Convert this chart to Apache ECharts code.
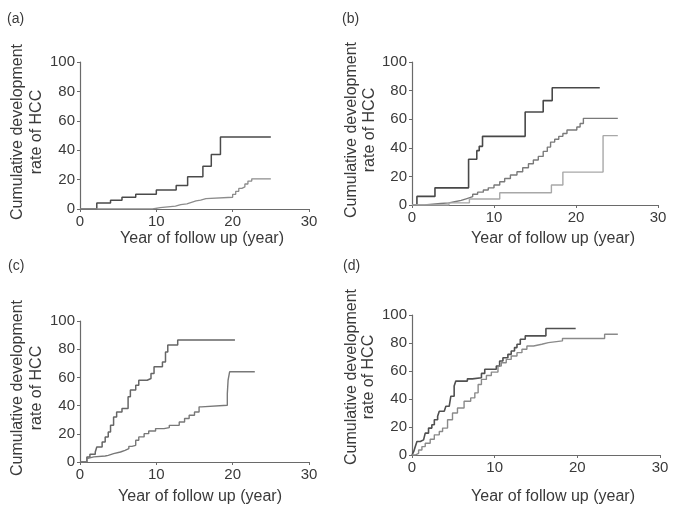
<!DOCTYPE html>
<html>
<head>
<meta charset="utf-8">
<script src="https://cdn.jsdelivr.net/npm/echarts@6/dist/echarts.min.js"></script>
<style>
html,body{margin:0;padding:0;background:#fff;}
#chart{width:675px;height:509px;}
</style>
</head>
<body>
<div id="chart"></div>
<script>
// ---- data ----
var xTicks = [0, 10, 20, 30];
var yTicks = [0, 20, 40, 60, 80, 100];

// panel (a)
var aUpperX = [0, 2.2, 4.0, 5.5, 7.3, 10.0, 12.6, 14.1, 16.1, 17.2, 18.4, 25.0];
var aUpperY = [0, 4, 6, 8, 10, 13, 16, 22, 29, 37, 49, 49];
var aLowerX = [0, 9.5, 10.5, 11.5, 12.5, 13.2, 14.0, 14.6, 15.2, 15.8, 16.5, 20.0, 20.4, 20.8, 21.2, 21.6, 22.0, 22.5, 25.0];
var aLowerY = [0, 1, 1.5, 2, 3, 3.5, 4.5, 5.5, 6, 7, 8, 10, 12, 14, 15, 17, 19, 20.5, 20.5];

// panel (b)
var bUpperX = [0, 0.6, 2.8, 6.9, 7.9, 8.2, 8.6, 13.8, 16.0, 17.1, 22.9];
var bUpperY = [0, 6, 12, 32, 38, 41, 48, 65, 73, 82, 82];
var bMiddleX = [0, 1.5, 2.5, 3.5, 4.5, 5.2, 6.0, 6.7, 7.4, 8.0, 8.7, 9.3, 10.0, 10.7, 11.3, 12.0, 12.8, 13.5, 14.2, 14.8, 15.4, 16.0, 16.5, 16.9, 17.4, 17.9, 18.4, 18.9, 20.1, 20.5, 20.9, 25.1];
var bMiddleY = [0, 0.5, 1, 1.5, 2.3, 3.2, 4.5, 5.8, 7.5, 9, 10.5, 12, 14, 16.3, 18.5, 21, 23.3, 26, 28.8, 31.5, 34, 37.5, 40.5, 44, 46, 48, 50, 52.4, 54.5, 57, 60.6, 60.6];
var bLowerX = [0, 4.5, 7.0, 10.7, 17.0, 18.4, 23.3, 25.1];
var bLowerY = [0, 1.5, 4.2, 8.6, 14, 23, 48.5, 48.5];

// panel (c)
var cUpperX = [0, 0.9, 1.3, 2.0, 2.2, 2.9, 3.3, 3.7, 4.0, 4.4, 4.8, 5.5, 6.3, 6.6, 7.3, 7.7, 8.8, 9.3, 9.7, 10.8, 11.2, 11.5, 12.8, 20.3];
var cUpperY = [0, 3.6, 5.5, 7.1, 10.7, 14.2, 17.8, 21.3, 26, 32, 35.5, 37.9, 46.2, 51, 54.5, 58, 59.2, 62.8, 67.5, 71, 78, 83, 86.5, 86.5];
var cLowerX = [0, 0.9, 1.1, 1.8, 3.3, 3.7, 4.4, 5.3, 5.9, 6.4, 6.8, 7.3, 7.7, 8.4, 9.0, 9.9, 11.0, 11.7, 13.0, 13.7, 14.3, 15.0, 15.6, 15.9, 19.3, 19.4, 19.6, 22.9];
var cLowerY = [0, 2.4, 3.6, 4.3, 4.7, 5.9, 7.1, 8.3, 9.5, 11.1, 11.8, 15.4, 17.8, 20.1, 22, 23.7, 24.4, 26, 28.4, 30.8, 33.2, 35.5, 39.1, 40.3, 48.6, 58, 64, 64];

// panel (d)
var dUpperX = [0, 0.2, 0.4, 0.6, 1.0, 1.4, 1.6, 2.0, 2.4, 2.7, 3.1, 3.3, 3.9, 4.1, 4.5, 4.7, 5.1, 5.3, 6.7, 7.3, 8.4, 8.8, 10.2, 10.6, 11.0, 11.6, 12.0, 12.4, 12.7, 13.1, 13.7, 16.2, 19.8];
var dUpperY = [0, 2.4, 6, 9.6, 10.8, 12, 15.6, 19.2, 21.6, 25.2, 27.6, 31.2, 32.4, 34.8, 36, 42, 49.2, 52.8, 54.4, 55.2, 58.3, 61.2, 63.5, 67.1, 69.5, 71.9, 74.3, 76.7, 79.1, 82.7, 85.1, 90.4, 90.4];
var dLowerX = [0, 0.4, 0.8, 1.2, 1.6, 2.2, 2.7, 3.3, 3.7, 4.3, 4.9, 5.5, 6.3, 7.1, 7.6, 8.0, 8.4, 9.0, 9.6, 10.4, 10.8, 11.4, 12.0, 12.7, 13.3, 13.9, 14.7, 15.7, 16.5, 18.2, 23.3, 24.9];
var dLowerY = [0, 1.2, 3.6, 6, 8.4, 11.3, 14.4, 16.8, 19.2, 25.2, 30, 33.6, 38.4, 40.8, 44.4, 50.4, 54, 56.8, 59.2, 63.5, 65.9, 68.3, 70.7, 73.1, 75.5, 77.9, 79.1, 80.3, 81.5, 83.2, 86.3, 86.3];

var panelLabels = ['(a)', '(b)', '(c)', '(d)'];
var yTitle1 = 'Cumulative development';
var yTitle2 = 'rate of HCC';
var xTitle = 'Year of follow up (year)';

// ---- layout ----
var FONT = '"Liberation Sans", Arial, Helvetica, sans-serif';
var TXT = '#3a3a3a';
var grids = [
  {left: 80, top: 62, width: 229, height: 147},
  {left: 412, top: 62, width: 246, height: 143},
  {left: 80, top: 321, width: 229, height: 141},
  {left: 412, top: 315, width: 248, height: 140}
];

function pairs(xs, ys) { return xs.map(function (x, i) { return [x, ys[i]]; }); }

var xAxes = [], yAxes = [];
grids.forEach(function (g, i) {
  xAxes.push({
    type: 'value', gridIndex: i, min: xTicks[0], max: xTicks[xTicks.length - 1], interval: 10,
    axisLine: {show: true, lineStyle: {color: '#6a6a6a', width: 1.2}},
    axisTick: {show: true, length: 3, lineStyle: {color: '#6a6a6a'}},
    splitLine: {show: false},
    axisLabel: {color: TXT, fontSize: 15, fontFamily: FONT, margin: 5}
  });
  yAxes.push({
    type: 'value', gridIndex: i, min: yTicks[0], max: yTicks[yTicks.length - 1], interval: 20,
    axisLine: {show: true, lineStyle: {color: '#6a6a6a', width: 1.2}},
    axisTick: {show: true, length: 3, lineStyle: {color: '#6a6a6a'}},
    splitLine: {show: false},
    axisLabel: {color: TXT, fontSize: 15, fontFamily: FONT, margin: 5}
  });
});

function km(idx, xs, ys, color, w) {
  return {
    type: 'line', xAxisIndex: idx, yAxisIndex: idx, step: 'end',
    data: pairs(xs, ys), symbol: 'none', silent: true, animation: false,
    lineStyle: {color: color, width: w || 1.4}
  };
}

var series = [
  km(0, aUpperX, aUpperY, '#4a4a4a', 1.5),
  km(0, aLowerX, aLowerY, '#8c8c8c', 1.3),
  km(1, bUpperX, bUpperY, '#484848', 1.6),
  km(1, bMiddleX, bMiddleY, '#7a7a7a', 1.4),
  km(1, bLowerX, bLowerY, '#a8a8a8', 1.4),
  km(2, cUpperX, cUpperY, '#666666', 1.5),
  km(2, cLowerX, cLowerY, '#787878', 1.4),
  km(3, dUpperX, dUpperY, '#505050', 1.6),
  km(3, dLowerX, dLowerY, '#8a8a8a', 1.4)
];

// text positions
var labelPos = [[7, 19], [342, 19], [8, 266], [343, 266]];
var yTitlePos = [[18, 37, 132], [352, 370, 130], [18, 37, 388], [352, 369, 377]];
var xTitlePos = [[202, 239], [553, 239], [200, 497], [553, 497]];

var graphic = [];
for (var i = 0; i < 4; i++) {
  graphic.push({type: 'text', x: labelPos[i][0], y: labelPos[i][1],
    style: {text: panelLabels[i], fill: TXT, font: '14px ' + FONT, textAlign: 'left', textVerticalAlign: 'middle'}});
  graphic.push({type: 'text', x: yTitlePos[i][0], y: yTitlePos[i][2], rotation: Math.PI / 2,
    style: {text: yTitle1, fill: TXT, font: '16px ' + FONT, textAlign: 'center', textVerticalAlign: 'middle'}});
  graphic.push({type: 'text', x: yTitlePos[i][1], y: yTitlePos[i][2], rotation: Math.PI / 2,
    style: {text: yTitle2, fill: TXT, font: '16px ' + FONT, textAlign: 'center', textVerticalAlign: 'middle'}});
  graphic.push({type: 'text', x: xTitlePos[i][0], y: xTitlePos[i][1],
    style: {text: xTitle, fill: TXT, font: '16px ' + FONT, textAlign: 'center', textVerticalAlign: 'middle'}});
}

var chart = echarts.init(document.getElementById('chart'), null, {renderer: 'canvas'});
chart.setOption({
  backgroundColor: '#ffffff',
  animation: false,
  grid: grids,
  xAxis: xAxes,
  yAxis: yAxes,
  series: series,
  graphic: graphic
});
</script>
</body>
</html>
